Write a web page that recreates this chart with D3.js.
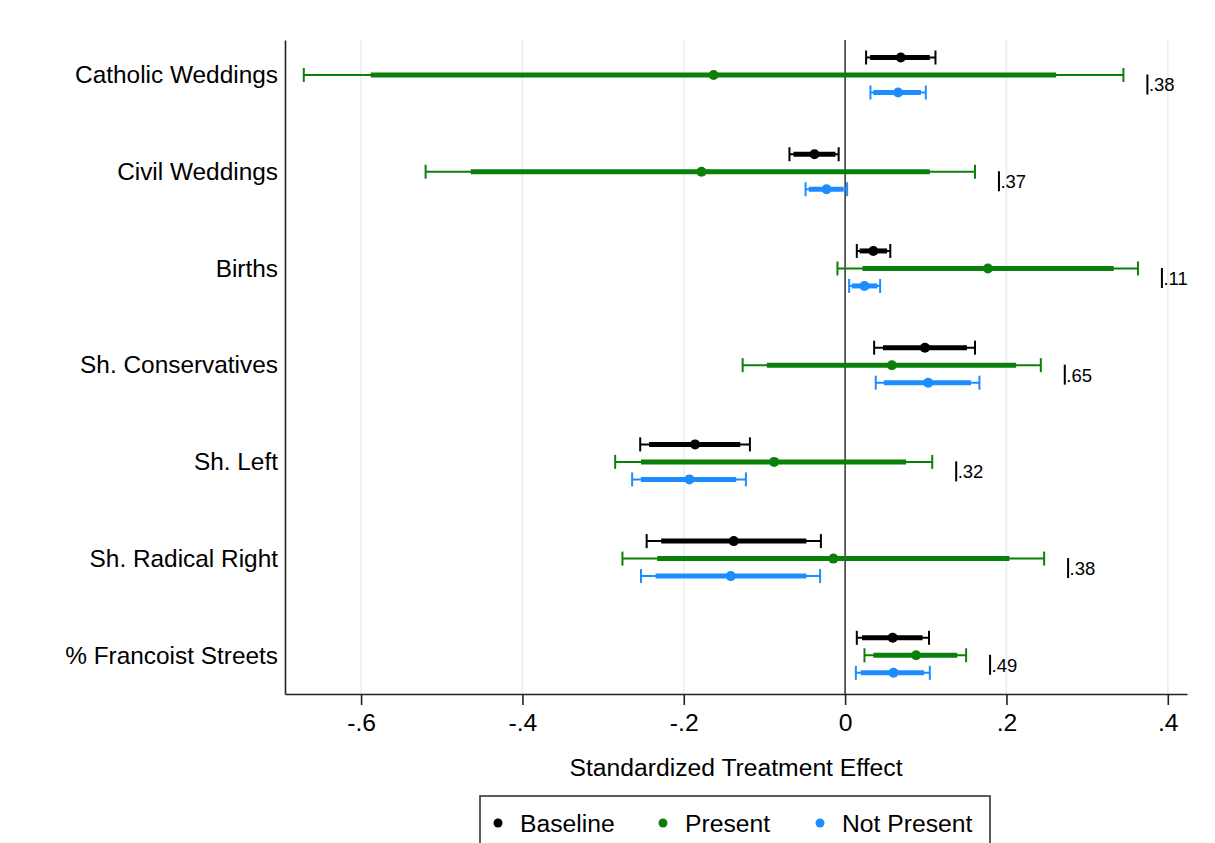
<!DOCTYPE html>
<html>
<head>
<meta charset="utf-8">
<script src="https://cdn.jsdelivr.net/npm/d3@7"></script>
<style>
  html, body { margin: 0; padding: 0; background: #ffffff; }
  svg { display: block; font-family: "Liberation Sans", Arial, sans-serif; }
</style>
</head>
<body>
<svg id="chart" width="1215" height="843"></svg>
<script>
// ---------------- DATA ----------------
const categories = ["Catholic Weddings", "Civil Weddings", "Births", "Sh. Conservatives",
                    "Sh. Left", "Sh. Radical Right", "% Francoist Streets"];

const seriesNames = ["Baseline", "Present", "Not Present"];

// Baseline
const baselinePoint = [0.069, -0.038, 0.035, 0.099, -0.186, -0.138, 0.059];
const baselineLo95  = [0.026, -0.069, 0.0145, 0.036, -0.254, -0.246, 0.0145];
const baselineHi95  = [0.112, -0.008, 0.056, 0.161, -0.118, -0.030, 0.104];
const baselineLo90  = [0.031, -0.064, 0.018, 0.047, -0.243, -0.228, 0.021];
const baselineHi90  = [0.105, -0.012, 0.052, 0.151, -0.130, -0.048, 0.096];

// Present
const presentPoint = [-0.163, -0.178, 0.177, 0.058, -0.088, -0.0145, 0.088];
const presentLo95  = [-0.671, -0.520, -0.0095, -0.127, -0.285, -0.276, 0.024];
const presentHi95  = [0.345, 0.161, 0.363, 0.2426, 0.108, 0.2467, 0.150];
const presentLo90  = [-0.588, -0.464, 0.0215, -0.097, -0.253, -0.233, 0.035];
const presentHi90  = [0.2616, 0.105, 0.333, 0.212, 0.0756, 0.2037, 0.139];

// Not Present
const notPresentPoint = [0.0657, -0.023, 0.024, 0.103, -0.193, -0.1417, 0.060];
const notPresentLo95  = [0.0314, -0.049, 0.005, 0.038, -0.264, -0.253, 0.0133];
const notPresentHi95  = [0.100, 0.0025, 0.0434, 0.1665, -0.123, -0.031, 0.105];
const notPresentLo90  = [0.035, -0.045, 0.0083, 0.048, -0.253, -0.235, 0.0194];
const notPresentHi90  = [0.094, -0.002, 0.040, 0.156, -0.135, -0.048, 0.098];

// p-value labels
const pLabels = [".38", ".37", ".11", ".65", ".32", ".38", ".49"];

const xTicks = [-0.6, -0.4, -0.2, 0, 0.2, 0.4];
const xTickLabels = ["-.6", "-.4", "-.2", "0", ".2", ".4"];
const xTitle = "Standardized Treatment Effect";

// ---------------- LAYOUT ----------------
const colors = ["#000000", "#0a800a", "#1c8cff"];
const plotLeft = 285, plotRight = 1187, plotTop = 40, plotBottom = 694;
const FS = 24.7;

const x = d3.scaleLinear().domain([-0.6943, 0.4238]).range([plotLeft, plotRight]);
const y = d3.scaleLinear().domain([-0.362, 6.4]).range([plotTop, plotBottom]);
const offsets = [-17.5, 0, 17.5];

const svg = d3.select("#chart");

// gridlines
svg.append("g").selectAll("line")
  .data(xTicks.filter(t => t !== 0))
  .join("line")
  .attr("x1", d => x(d)).attr("x2", d => x(d))
  .attr("y1", plotTop).attr("y2", plotBottom)
  .attr("stroke", "#e7eff1").attr("stroke-width", 1.6);

// zero line
svg.append("line")
  .attr("x1", x(0)).attr("x2", x(0))
  .attr("y1", plotTop).attr("y2", plotBottom)
  .attr("stroke", "#222").attr("stroke-width", 1.4);

// x axis
const xAxis = d3.axisBottom(x)
  .tickValues(xTicks)
  .tickFormat((d, i) => xTickLabels[i])
  .tickSize(11)
  .tickSizeOuter(0)
  .tickPadding(8);
const gx = svg.append("g").attr("transform", `translate(0,${plotBottom})`).call(xAxis);
gx.select(".domain").attr("stroke", "#222").attr("stroke-width", 1.6);
gx.selectAll(".tick line").attr("stroke", "#222").attr("stroke-width", 1.6);
gx.selectAll(".tick text").attr("font-size", FS).attr("fill", "#000")
  .attr("font-family", "'Liberation Sans', Arial, sans-serif");

// y axis (line + labels, no ticks)
const yAxis = d3.axisLeft(y)
  .tickValues(d3.range(categories.length))
  .tickFormat(i => categories[i])
  .tickSize(0)
  .tickPadding(7);
const gy = svg.append("g").attr("transform", `translate(${plotLeft},0)`).call(yAxis);
gy.select(".domain").attr("stroke", "#222").attr("stroke-width", 1.6);
gy.selectAll(".tick text").attr("font-size", 24.4).attr("fill", "#000")
  .attr("font-family", "'Liberation Sans', Arial, sans-serif");

// x title
svg.append("text")
  .attr("x", (plotLeft + plotRight) / 2).attr("y", 776)
  .attr("text-anchor", "middle").attr("font-size", FS).attr("fill", "#000")
  .text(xTitle);

// series
const series = [
  { point: baselinePoint, lo95: baselineLo95, hi95: baselineHi95, lo90: baselineLo90, hi90: baselineHi90 },
  { point: presentPoint, lo95: presentLo95, hi95: presentHi95, lo90: presentLo90, hi90: presentHi90 },
  { point: notPresentPoint, lo95: notPresentLo95, hi95: notPresentHi95, lo90: notPresentLo90, hi90: notPresentHi90 }
];

series.forEach((s, si) => {
  const g = svg.append("g");
  const c = colors[si];
  const yy = i => y(i) + offsets[si];
  const idx = d3.range(categories.length);
  // thin 95% line
  g.selectAll(".thin").data(idx).join("line")
    .attr("x1", i => x(s.lo95[i])).attr("x2", i => x(s.hi95[i]))
    .attr("y1", yy).attr("y2", yy)
    .attr("stroke", c).attr("stroke-width", 2);
  // caps
  ["lo95", "hi95"].forEach(k => {
    g.selectAll(".cap" + k).data(idx).join("line")
      .attr("x1", i => x(s[k][i])).attr("x2", i => x(s[k][i]))
      .attr("y1", i => yy(i) - 7).attr("y2", i => yy(i) + 7)
      .attr("stroke", c).attr("stroke-width", 2);
  });
  // thick 90% line
  g.selectAll(".thick").data(idx).join("line")
    .attr("x1", i => x(s.lo90[i])).attr("x2", i => x(s.hi90[i]))
    .attr("y1", yy).attr("y2", yy)
    .attr("stroke", c).attr("stroke-width", 5);
  // points
  g.selectAll("circle").data(idx).join("circle")
    .attr("cx", i => x(s.point[i])).attr("cy", yy).attr("r", 5)
    .attr("fill", c);
});

// p-value labels (pipe marker + label)
const pg = svg.append("g");
d3.range(categories.length).forEach(i => {
  const maxHi = Math.max(baselineHi95[i], presentHi95[i], notPresentHi95[i]);
  const px = x(maxHi + 0.0297);
  const py = y(i) + 9.5;
  pg.append("line")
    .attr("x1", px).attr("x2", px).attr("y1", py - 10).attr("y2", py + 10)
    .attr("stroke", "#000").attr("stroke-width", 2);
  pg.append("text")
    .attr("x", px + 1.5).attr("y", py).attr("dy", "0.37em")
    .attr("font-size", 18.5).attr("fill", "#000")
    .text(pLabels[i]);
});

// legend
const lg = svg.append("g");
lg.append("rect")
  .attr("x", 480).attr("y", 796).attr("width", 510).attr("height", 70)
  .attr("fill", "#fff").attr("stroke", "#333").attr("stroke-width", 1.6);
const legendDotX = [498, 663, 820];
seriesNames.forEach((n, i) => {
  lg.append("circle").attr("cx", legendDotX[i]).attr("cy", 823).attr("r", 4.5).attr("fill", colors[i]);
  lg.append("text").attr("x", legendDotX[i] + 22).attr("y", 832)
    .attr("font-size", FS).attr("fill", "#000").text(n);
});
</script>
</body>
</html>
